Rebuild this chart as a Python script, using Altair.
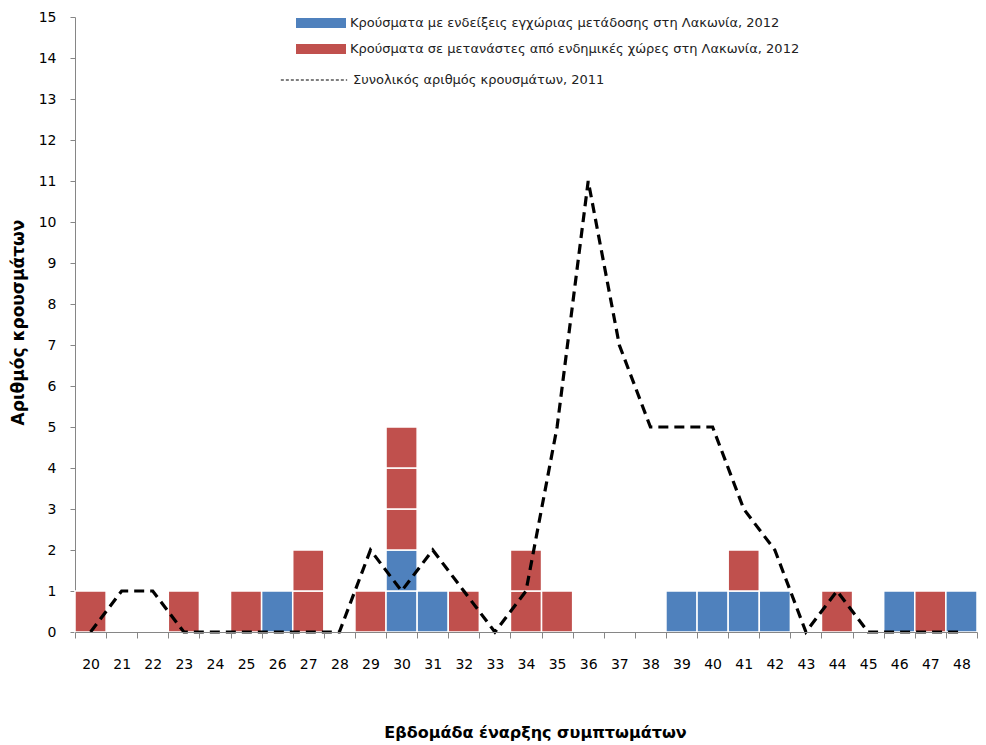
import altair as alt
import pandas as pd

weeks = list(range(20, 49))
local_2012 = [0,0,0,0,0,0,1,0,0,0,2,1,0,0,0,0,0,0,0,1,1,1,1,0,0,0,1,0,1]
migrant_2012 = [1,0,0,1,0,1,0,2,0,1,3,0,1,0,2,1,0,0,0,0,0,1,0,0,1,0,0,1,0]
total_2011 = [0,1,1,0,0,0,0,0,0,2,1,2,1,0,1,5,11,7,5,5,5,3,2,0,1,0,0,0,0]

LOCAL = "Κρούσματα με ενδείξεις εγχώριας μετάδοσης στη Λακωνία, 2012"
MIGR = "Κρούσματα σε μετανάστες από ενδημικές χώρες στη Λακωνία, 2012"
TOT = "Συνολικός αριθμός κρουσμάτων, 2011"

rows = []
for w, a, b in zip(weeks, local_2012, migrant_2012):
    k = 0
    for _ in range(a):
        rows.append({"week": w, "y0": k, "y1": k + 1, "type": LOCAL})
        k += 1
    for _ in range(b):
        rows.append({"week": w, "y0": k, "y1": k + 1, "type": MIGR})
        k += 1
cells = pd.DataFrame(rows)
line_df = pd.DataFrame({"week": weeks, "total": total_2011, "series": TOT})

FONT = "DejaVu Sans"
xenc = alt.X("week:O", title="Εβδομάδα έναρξης συμπτωμάτων",
             scale=alt.Scale(paddingInner=0, paddingOuter=0),
             axis=alt.Axis(labelAngle=0, tickBand="extent", tickSize=6,
                           labelPadding=26, labelBaseline="middle",
                           titleX=460, titleY=100, titleBaseline="middle"))

bars = alt.Chart(cells).mark_rect(stroke="white", strokeWidth=1.5).encode(
    x=xenc,
    y=alt.Y("y0:Q", title="Αριθμός κρουσμάτων",
            scale=alt.Scale(domain=[0, 15], nice=False),
            axis=alt.Axis(values=list(range(0, 16)), tickSize=5, labelPadding=14,
                          grid=False, titleX=-57, titleY=305, titleAngle=-90,
                          titleAlign="center", titleBaseline="middle",
                          titleFontSize=17)),
    y2="y1:Q",
    color=alt.Color("type:N",
                    scale=alt.Scale(domain=[LOCAL, MIGR], range=["#4F81BD", "#C0504D"]),
                    legend=alt.Legend(title=None, orient="none", legendX=236, legendY=-4,
                                      symbolType="M-2.5,-0.5H2.5V0.5H-2.5Z",
                                      symbolSize=400, symbolStrokeWidth=0,
                                      labelOffset=19, rowPadding=9,
                                      labelFontSize=13, labelFont=FONT,
                                      labelColor="#222", padding=0, labelLimit=600)),
)

line = alt.Chart(line_df).mark_line(color="black", strokeWidth=3.2, strokeDash=[10, 6]).encode(
    x=alt.X("week:O"),
    y=alt.Y("total:Q"),
)

legend_line = alt.Chart(line_df).transform_filter("false").mark_line(
    color="black", strokeWidth=1.2).encode(
    x=alt.X("week:O"),
    y=alt.Y("total:Q"),
    strokeDash=alt.StrokeDash("series:N",
                              scale=alt.Scale(domain=[TOT], range=[[3, 2]]),
                              legend=alt.Legend(title=None, orient="none", legendX=205, legendY=29,
                                                symbolType="stroke", symbolSize=4400,
                                                symbolStrokeWidth=1.2,
                                                symbolStrokeColor="black",
                                                labelOffset=5, labelFontSize=13, labelFont=FONT,
                                                labelColor="#222", padding=0, labelLimit=600)),
)

chart = alt.layer(bars, line, legend_line).properties(
    width=902, height=615,
    autosize=alt.AutoSizeParams(type="none"),
    padding={"left": 67, "top": 9, "right": 1, "bottom": 112},
).configure_view(stroke=None).configure_axis(
    domainColor="#868686", tickColor="#868686", labelColor="black",
    labelFont=FONT, labelFontSize=14, titleFont=FONT, titleFontSize=16,
    titleFontWeight="bold", titleColor="black",
)

chart.save("out.html", embed_options={"renderer": "svg", "actions": False})
